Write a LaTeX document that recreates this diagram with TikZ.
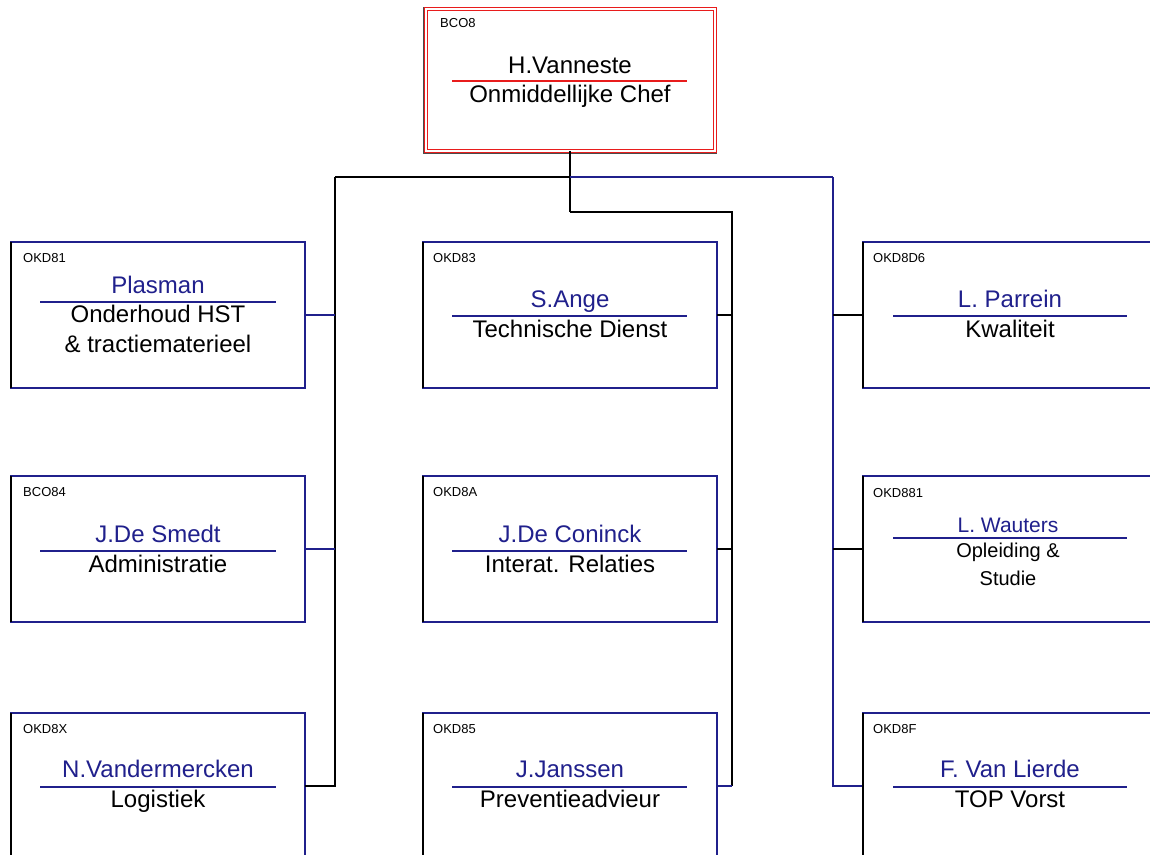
\documentclass[tikz,border=0pt]{standalone}
\usepackage{fontspec}
\setmainfont{Liberation Sans}
\definecolor{navy}{RGB}{32,32,140}
\definecolor{chiefred}{RGB}{232,28,28}
\begin{document}
\begin{tikzpicture}[x=1pt,y=-1pt,
  unit/.style={draw=navy, line width=1.3pt, minimum width=294pt, minimum height=146pt,
               inner sep=0pt, outer sep=0pt, anchor=north west},
  chefbox/.style={draw=chiefred, double=white, double distance=1.8pt, line width=1.5pt,
               minimum width=289pt, minimum height=142pt, inner sep=0pt, outer sep=0pt, anchor=north west},
  code/.style={anchor=base west, inner sep=0pt, font=\fontsize{13}{13}\selectfont},
  who/.style={anchor=base, inner sep=0pt, text=navy, font=\fontsize{24}{24}\selectfont},
  role/.style={anchor=base, inner sep=0pt, font=\fontsize{24}{24}\selectfont},
  whosmall/.style={who, font=\fontsize{21}{21}\selectfont},
  rolesmall/.style={role, font=\fontsize{20}{20}\selectfont},
  rule/.style={navy, line width=1.3pt},
  wire/.style={line width=1.4pt, black},
  leftedge/.style={black, line width=1.3pt}]

\useasboundingbox (0,0) rectangle (1150,854);
\clip (0,0) rectangle (1150,854);
\fill[white] (0,0) rectangle (1150,854);

% ---- head of department
\node[chefbox] (chef) at (426,9) {};
\draw[gray!60!black, line width=0.8pt] (423.5,7) -- (423.5,153.5) -- (717,153.5);
\node[code] (cchef) at (440,27) {BCO8};
\node[role] (nchef) at (570,73) {H.Vanneste};
\draw[chiefred, line width=1.3pt] (452,81) -- (687,81);
\node[role] (rchef) at (570,102) {Onmiddellijke Chef};

% ---- unit boxes
\node[unit] (plas)    at (11,242)  {};
\node[unit] (smedt)   at (11,476)  {};
\node[unit] (logi)    at (11,713)  {};
\node[unit] (ange)    at (423,242) {};
\node[unit] (coninck) at (423,476) {};
\node[unit] (janssen) at (423,713) {};
\node[unit] (parrein) at (863,242) {};
\node[unit] (wauters) at (863,476) {};
\node[unit] (lierde)  at (863,713) {};

% ---- left column
\node[code] (cplas) at (23,262) {OKD81};
\node[who]  (nplas) at (158,293) {Plasman};
\draw[rule] (40,302) -- (276,302);
\node[role] (rplas1) at (158,322) {Onderhoud HST};
\node[role] (rplas2) at (158,352) {\& tractiematerieel};

\node[code] (csmedt) at (23,496) {BCO84};
\node[who]  (nsmedt) at (158,542) {J.De Smedt};
\draw[rule] (40,551) -- (276,551);
\node[role] (rsmedt) at (158,572) {Administratie};

\node[code] (clogi) at (23,733) {OKD8X};
\node[who]  (nlogi) at (158,777) {N.Vandermercken};
\draw[rule] (40,787) -- (276,787);
\node[role] (rlogi) at (158,807) {Logistiek};

% ---- middle column
\node[code] (cange) at (433,262) {OKD83};
\node[who]  (nange) at (570,307) {S.Ange};
\draw[rule] (452,316) -- (687,316);
\node[role] (range) at (570,337) {Technische Dienst};

\node[code] (cconinck) at (433,496) {OKD8A};
\node[who]  (nconinck) at (570,542) {J.De Coninck};
\draw[rule] (452,551) -- (687,551);
\node[role] (rconinck) at (570,572) {Interat. Relaties};

\node[code] (cjanssen) at (433,733) {OKD85};
\node[who]  (njanssen) at (570,777) {J.Janssen};
\draw[rule] (452,787) -- (687,787);
\node[role] (rjanssen) at (570,807) {Preventieadvieur};

% ---- right column
\node[code] (cparrein) at (873,262) {OKD8D6};
\node[who]  (nparrein) at (1010,307) {L. Parrein};
\draw[rule] (893,316) -- (1127,316);
\node[role] (rparrein) at (1010,337) {Kwaliteit};

\node[code]     (cwauters) at (873,497) {OKD881};
\node[whosmall] (nwauters) at (1008,532) {L. Wauters};
\draw[rule] (893,538) -- (1127,538);
\node[rolesmall] (rwauters1) at (1008,557) {Opleiding \&};
\node[rolesmall] (rwauters2) at (1008,585) {Studie};

\node[code] (clierde) at (873,733) {OKD8F};
\node[who]  (nlierde) at (1010,777) {F. Van Lierde};
\draw[rule] (893,787) -- (1127,787);
\node[role] (rlierde) at (1010,807) {TOP Vorst};

% ---- connectors
\coordinate (lefttop)  at (335,177);
\coordinate (righttop) at (833,177);
\coordinate (midtop)   at (732,212);
\coordinate (chefout)  at ([xshift=-0.5pt]chef.south);

% head down to the middle trunk
\draw[wire, line width=1.6pt] (chefout) -- (chefout |- midtop);
\draw[wire] (chefout |- midtop) -- (midtop) -- (midtop |- janssen.east);
\draw[wire, navy] (midtop |- janssen.east) -- (janssen.east);
\draw[wire] (ange.east) -- (ange.east -| midtop);
\draw[wire] (coninck.east) -- (coninck.east -| midtop);

% crossbar feeding the outer trunks
\draw[wire] (lefttop) -- (lefttop -| chefout);
\draw[wire, navy] (lefttop -| chefout) -- (righttop);

% left trunk
\draw[wire] (lefttop) -- (lefttop |- logi.east) -- (logi.east);
\draw[wire, navy] (plas.east) -- (plas.east -| lefttop);
\draw[wire, navy] (smedt.east) -- (smedt.east -| lefttop);

% right trunk
\draw[wire, navy] (righttop) -- (righttop |- lierde.west) -- (lierde.west);
\draw[wire] (parrein.west) -- (parrein.west -| righttop);
\draw[wire] (wauters.west) -- (wauters.west -| righttop);

% black left edges of the unit boxes
\foreach \b in {plas,smedt,logi,ange,coninck,janssen,parrein,wauters,lierde}
  \draw[leftedge] (\b.north west) -- (\b.south west);
\end{tikzpicture}
\end{document}
